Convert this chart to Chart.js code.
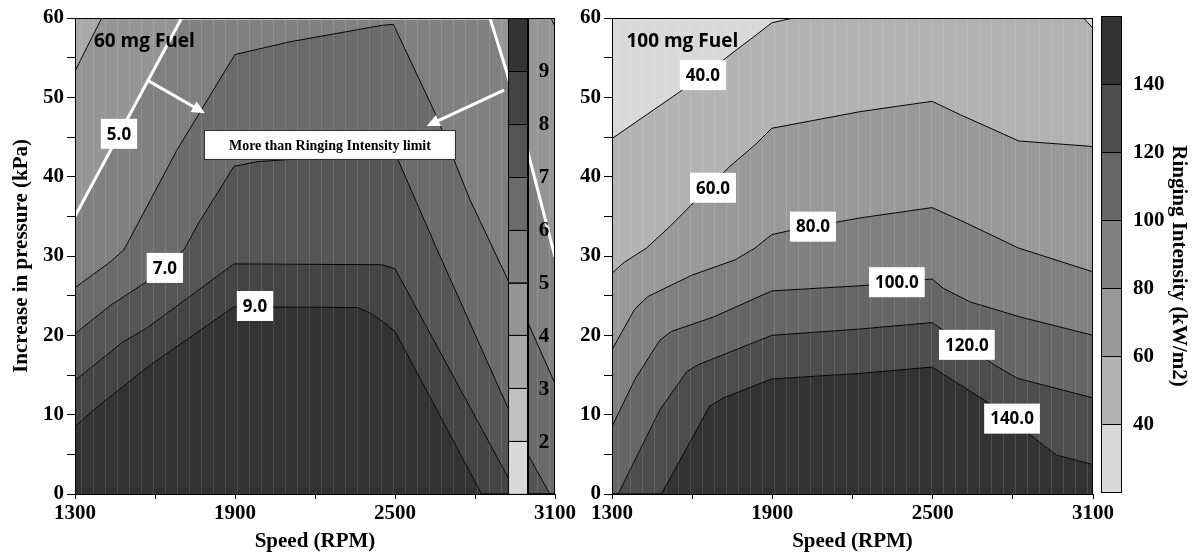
<!DOCTYPE html>
<html>
<head>
<meta charset="utf-8">
<script src="https://cdn.jsdelivr.net/npm/chart.js@4.4.0/dist/chart.umd.min.js"></script>
<style>
  body { margin: 0; background: #fff; }
  #wrap { position: relative; width: 1192px; height: 554px; overflow: hidden; }
  #left { position: absolute; left: 0; top: 0; }
  #right { position: absolute; left: 560px; top: 0; }
</style>
</head>
<body>
<div id="wrap">
  <canvas id="left" width="600" height="554"></canvas>
  <canvas id="right" width="632" height="554"></canvas>
</div>
<script>
// axes
const speedTicks = [1300, 1900, 2500, 3100];
const pressureTicks = [0, 10, 20, 30, 40, 50, 60];

// 60 mg fuel: contour lines [speed rpm, pressure kPa], levels 4..9
const fuel60Levels = [4, 5, 6, 7, 8, 9];
const fuel60_4 = [[1300, 53.3], [1400, 60], [3085, 60], [3100, 58.9]];
const fuel60_5 = [[1300, 35.0], [1700, 60], [2856, 60], [2919, 53.2], [2996, 43.4], [3100, 29.9]];
const fuel60_6 = [[1300, 26.0], [1434, 29.3], [1484, 30.8], [1683, 43.4], [1900, 55.4], [2106, 57.0], [2456, 59.1], [2494, 59.2], [2656, 47.6], [2781, 37.1], [2919, 27.3], [2996, 21.8], [3100, 13.9]];
const fuel60_7 = [[1300, 20.2], [1434, 23.8], [1571, 26.8], [1709, 30.8], [1759, 33.9], [1896, 41.3], [1984, 41.9], [2500, 43.0], [2650, 31.4], [2919, 11.2], [2993, 5.3], [3081, 0], [3100, 0]];
const fuel60_8 = [[1300, 14.3], [1481, 19.2], [1569, 20.9], [1896, 29.0], [2450, 28.9], [2500, 28.4], [2919, 2.4], [2958, 0], [3100, 0]];
const fuel60_9 = [[1300, 8.5], [1377, 10.8], [1580, 16.2], [1896, 23.6], [2359, 23.5], [2408, 22.8], [2456, 21.7], [2500, 20.5], [2825, 0], [3100, 0]];
const fuel60Labels = [['5.0', 1465, 45.4], ['7.0', 1637, 28.5], ['9.0', 1975, 23.7]];
const fuel60Scale = [2, 3, 4, 5, 6, 7, 8, 9];
const fuel60Colors = ['#d9d9d9', '#c0c0c0', '#aaaaaa', '#959595', '#808080', '#6b6b6b', '#555555', '#444444', '#333333'];

// 100 mg fuel: contour lines, levels 40..140
const fuel100Levels = [40, 60, 80, 100, 120, 140];
const fuel100_40 = [[1300, 44.8], [1429, 47.8], [1554, 50.7], [1716, 54.7], [1841, 57.9], [1898, 59.4], [1979, 60], [3065, 60], [3100, 58.7]];
const fuel100_60 = [[1300, 27.8], [1341, 29.1], [1429, 31.0], [1516, 33.7], [1741, 41.3], [1835, 44.0], [1898, 46.1], [2229, 48.2], [2498, 49.5], [2604, 47.8], [2822, 44.5], [3100, 43.8]];
const fuel100_80 = [[1300, 18.2], [1385, 23.3], [1435, 24.9], [1600, 27.6], [1760, 29.5], [1835, 31.0], [1898, 32.7], [1979, 33.3], [2229, 34.8], [2498, 36.1], [2604, 34.5], [2822, 31.0], [3100, 28.0]];
const fuel100_100 = [[1300, 8.5], [1385, 14.4], [1479, 19.4], [1523, 20.5], [1679, 22.3], [1898, 25.6], [2254, 26.3], [2498, 27.1], [2541, 25.9], [2641, 24.2], [2829, 22.3], [3100, 20.0]];
const fuel100_120 = [[1300, 0], [1323, 0], [1479, 10.6], [1579, 15.4], [1623, 16.3], [1898, 20.0], [2229, 20.8], [2498, 21.6], [2729, 16.3], [2816, 14.6], [3100, 12.1]];
const fuel100_140 = [[1300, 0], [1485, 0], [1666, 11.1], [1716, 12.1], [1898, 14.5], [2229, 15.2], [2498, 16.0], [2704, 11.6], [2964, 4.9], [3100, 3.7]];
const fuel100Labels = [['40.0', 1640, 52.8], ['60.0', 1678, 38.6], ['80.0', 2052, 33.7], ['100.0', 2366, 26.7], ['120.0', 2628, 18.8], ['140.0', 2797, 9.5]];
const fuel100Scale = [40, 60, 80, 100, 120, 140];
const fuel100Colors = ['#d9d9d9', '#b3b3b3', '#999999', '#808080', '#666666', '#4d4d4d', '#333333'];

const serif = 'Liberation Serif';
const sans = 'Open Sans';

function contourSets(lines, colors, lineColors, lineWidths) {
  const sets = lines.map((pts, i) => ({
    data: pts.map(p => ({x: p[0], y: p[1]})),
    borderColor: lineColors[i],
    borderWidth: lineWidths[i],
    backgroundColor: colors[i],
    fill: i === 0 ? 'end' : '-1',
    pointRadius: 0,
    tension: 0
  }));
  const last = lines[lines.length - 1];
  sets.push({
    data: last.map(p => ({x: p[0], y: p[1]})),
    borderWidth: 0,
    backgroundColor: colors[lines.length],
    fill: 'start',
    pointRadius: 0
  });
  return sets;
}

function scalesFor(yWidth, showTitleY) {
  return {
    x: {
      type: 'linear', min: 1300, max: 3100,
      afterFit: s => { s.height = 60; },
      ticks: {
        stepSize: 300, autoSkip: false, maxRotation: 0, padding: 2, color: '#000',
        font: {family: serif, weight: 'bold', size: 21},
        callback: v => speedTicks.includes(v) ? v : ''
      },
      grid: {drawOnChartArea: false, tickLength: 5, color: '#000'},
      border: {color: '#000', width: 1},
      title: {display: true, text: 'Speed (RPM)', color: '#000',
        font: {family: serif, weight: 'bold', size: 21}, padding: {top: 0, bottom: 0}}
    },
    y: {
      type: 'linear', min: 0, max: 60,
      afterFit: s => { s.width = yWidth; },
      ticks: {
        stepSize: 5, autoSkip: false, padding: 3, color: '#000',
        font: {family: serif, weight: 'bold', size: 21},
        callback: v => pressureTicks.includes(v) ? v : ''
      },
      grid: {drawOnChartArea: false, tickLength: 8, color: '#000'},
      border: {color: '#000', width: 1},
      title: {display: showTitleY, text: 'Increase in pressure (kPa)', color: '#000',
        font: {family: serif, weight: 'bold', size: 21}, padding: {top: 9, bottom: 0}}
    }
  };
}

const texture = {
  id: 'texture',
  beforeDatasetsDraw(chart) {
    const {ctx, chartArea: ca, scales: {x}} = chart;
    ctx.save();
    ctx.strokeStyle = 'rgba(255,255,255,0.13)';
    ctx.lineWidth = 1;
    for (let v = 1322; v < 3100; v += 45) {
      const px = Math.round(x.getPixelForValue(v)) + 0.5;
      ctx.beginPath();
      ctx.moveTo(px, ca.top);
      ctx.lineTo(px, ca.bottom);
      ctx.stroke();
    }
    ctx.restore();
  }
};

function labelBoxes(chart, list) {
  const {ctx, scales: {x, y}} = chart;
  ctx.save();
  ctx.font = 'bold 17px "' + sans + '"';
  ctx.textAlign = 'center';
  ctx.textBaseline = 'middle';
  list.forEach(([t, sx, sy]) => {
    const px = x.getPixelForValue(sx), py = y.getPixelForValue(sy);
    const w = ctx.measureText(t).width + 12, h = 30;
    ctx.fillStyle = '#fff';
    ctx.fillRect(px - w / 2, py - h / 2, w, h);
    ctx.fillStyle = '#000';
    ctx.fillText(t, px, py + 1);
  });
  ctx.restore();
}

function frame(chart) {
  const {ctx, chartArea: ca} = chart;
  ctx.save();
  ctx.strokeStyle = '#000';
  ctx.lineWidth = 1;
  ctx.strokeRect(ca.left + 0.5, ca.top + 0.5, ca.width - 1, ca.height);
  ctx.restore();
}

function arrow(ctx, x0, y0, x1, y1) {
  const a = Math.atan2(y1 - y0, x1 - x0), L = 13, W = 6;
  ctx.beginPath();
  ctx.moveTo(x0, y0);
  ctx.lineTo(x1 - Math.cos(a) * L * 0.8, y1 - Math.sin(a) * L * 0.8);
  ctx.stroke();
  ctx.beginPath();
  ctx.moveTo(x1, y1);
  ctx.lineTo(x1 - Math.cos(a) * L - Math.sin(a) * W, y1 - Math.sin(a) * L + Math.cos(a) * W);
  ctx.lineTo(x1 - Math.cos(a) * L + Math.sin(a) * W, y1 - Math.sin(a) * L - Math.cos(a) * W);
  ctx.closePath();
  ctx.fill();
}

const overlay60 = {
  id: 'overlay60',
  afterDatasetsDraw(chart) {
    const {ctx, chartArea: ca, scales: {x, y}} = chart;
    frame(chart);
    // colour bar inside the plot
    const cx0 = 508, cx1 = 527, n = fuel60Colors.length, h = ca.height / n;
    ctx.save();
    for (let i = 0; i < n; i++) {
      const top = ca.bottom - (i + 1) * h;
      ctx.fillStyle = fuel60Colors[i];
      ctx.fillRect(cx0, top, cx1 - cx0, h);
      ctx.strokeStyle = '#000';
      ctx.lineWidth = 1;
      ctx.strokeRect(cx0 + 0.5, Math.round(top) + 0.5, cx1 - cx0, h);
    }
    ctx.fillStyle = '#000';
    ctx.fillRect(cx1, ca.top, 2, ca.height);
    ctx.font = 'bold 21px "' + serif + '"';
    ctx.textAlign = 'center';
    ctx.textBaseline = 'middle';
    fuel60Scale.forEach((v, i) => {
      ctx.fillText(String(v), 544, ca.bottom - (i + 1) * h + 1);
    });
    // arrows and note
    ctx.strokeStyle = '#fff';
    ctx.fillStyle = '#fff';
    ctx.lineWidth = 3;
    arrow(ctx, x.getPixelForValue(1569), y.getPixelForValue(52.2), x.getPixelForValue(1787), y.getPixelForValue(48.0));
    arrow(ctx, x.getPixelForValue(2909), y.getPixelForValue(50.9), x.getPixelForValue(2619), y.getPixelForValue(46.4));
    const bx = x.getPixelForValue(2256), by = y.getPixelForValue(44.0);
    ctx.fillStyle = '#fff';
    ctx.fillRect(bx - 126, by - 15, 252, 30);
    ctx.strokeStyle = '#222';
    ctx.lineWidth = 1;
    ctx.strokeRect(bx - 125.5, by - 14.5, 251, 29);
    ctx.fillStyle = '#000';
    ctx.font = 'bold 14px "' + serif + '"';
    ctx.fillText('More than Ringing Intensity limit', bx, by + 1);
    ctx.font = 'bold 19px "' + sans + '"';
    ctx.textAlign = 'left';
    ctx.fillText('60 mg Fuel', x.getPixelForValue(1371), y.getPixelForValue(57.0));
    ctx.restore();
    labelBoxes(chart, fuel60Labels);
  }
};

const overlay100 = {
  id: 'overlay100',
  afterDatasetsDraw(chart) {
    const {ctx, chartArea: ca, scales: {x, y}} = chart;
    frame(chart);
    labelBoxes(chart, fuel100Labels);
    ctx.save();
    ctx.fillStyle = '#000';
    ctx.font = 'bold 19px "' + sans + '"';
    ctx.textAlign = 'left';
    ctx.textBaseline = 'middle';
    ctx.fillText('100 mg Fuel', x.getPixelForValue(1354), y.getPixelForValue(57.0));
    ctx.restore();
  },
  afterDraw(chart) {
    const {ctx, chartArea: ca} = chart;
    const cx0 = 541, cx1 = 561, top0 = ca.top - 2, n = fuel100Colors.length;
    const h = ca.height / n;
    ctx.save();
    for (let i = 0; i < n; i++) {
      const top = top0 + ca.height - (i + 1) * h;
      ctx.fillStyle = fuel100Colors[i];
      ctx.fillRect(cx0, top, cx1 - cx0, h);
      ctx.strokeStyle = '#000';
      ctx.lineWidth = 1;
      ctx.strokeRect(cx0 + 0.5, Math.round(top) + 0.5, cx1 - cx0, h);
    }
    ctx.fillStyle = '#000';
    ctx.font = 'bold 21px "' + serif + '"';
    ctx.textAlign = 'left';
    ctx.textBaseline = 'middle';
    fuel100Scale.forEach((v, i) => {
      ctx.fillText(String(v), 573, top0 + ca.height - (i + 1) * h + 1);
    });
    ctx.translate(618, 266);
    ctx.rotate(Math.PI / 2);
    ctx.textAlign = 'center';
    ctx.fillText('Ringing Intensity (kW/m2)', 0, 0);
    ctx.restore();
  }
};

const baseOptions = (yWidth, showTitleY, padRight) => ({
  responsive: false,
  animation: false,
  events: [],
  layout: {padding: {top: 18, right: padRight, left: 0, bottom: 0}},
  plugins: {legend: {display: false}, tooltip: {enabled: false}, filler: {drawTime: 'beforeDatasetsDraw'}},
  scales: scalesFor(yWidth, showTitleY)
});

new Chart(document.getElementById('left'), {
  type: 'line',
  data: {
    datasets: contourSets(
      [fuel60_4, fuel60_5, fuel60_6, fuel60_7, fuel60_8, fuel60_9],
      fuel60Colors.slice(2),
      fuel60Levels.map(v => v === 5 ? '#fff' : '#000'),
      fuel60Levels.map(v => v === 5 ? 3 : 1)
    )
  },
  options: baseOptions(75, true, 45),
  plugins: [texture, overlay60]
});

new Chart(document.getElementById('right'), {
  type: 'line',
  data: {
    datasets: contourSets(
      [fuel100_40, fuel100_60, fuel100_80, fuel100_100, fuel100_120, fuel100_140],
      fuel100Colors,
      fuel100Levels.map(() => '#000'),
      fuel100Levels.map(() => 1)
    )
  },
  options: baseOptions(52, false, 99),
  plugins: [texture, overlay100]
});
</script>
</body>
</html>
